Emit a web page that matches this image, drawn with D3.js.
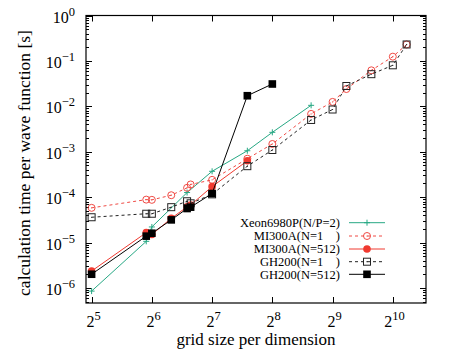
<!DOCTYPE html>
<html><head><meta charset="utf-8">
<script src="https://cdn.jsdelivr.net/npm/d3@7"></script>
<style>body{margin:0;background:#fff}svg{display:block}</style>
</head><body>
<script>
// ---- data ----
const xeonX = [32, 60, 64, 96, 128, 192, 256, 400];
const xeonY = [8.5e-7, 1.06e-5, 2.2e-5, 1.26e-4, 3.7e-4, 1.05e-3, 2.67e-3, 1.05e-2];

const mi1X = [32, 60, 64, 80, 96, 100, 128, 192, 256, 400, 512, 600, 800, 1024, 1200];
const mi1Y = [5.8e-5, 8.8e-5, 8.7e-5, 1.1e-4, 1.6e-4, 1.9e-4, 2.4e-4, 7.0e-4, 1.48e-3, 6.8e-3, 1.25e-2, 2.4e-2, 6.2e-2, 0.124, 0.23];

const mi512X = [32, 60, 64, 80, 96, 100, 128, 192];
const mi512Y = [2.35e-6, 1.65e-5, 1.5e-5, 3.4e-5, 6.1e-5, 6.7e-5, 1.7e-4, 6.3e-4];

const gh1X = [32, 60, 64, 80, 96, 100, 128, 192, 256, 400, 512, 600, 800, 1024, 1200];
const gh1Y = [3.6e-5, 4.3e-5, 4.3e-5, 6.0e-5, 8.1e-5, 7.3e-5, 1.15e-4, 4.8e-4, 1.09e-3, 5.0e-3, 8.5e-3, 2.8e-2, 5.1e-2, 8.0e-2, 0.23];

const gh512X = [32, 60, 64, 80, 96, 100, 128, 192, 256];
const gh512Y = [2.0e-6, 1.38e-5, 1.6e-5, 3.15e-5, 5.6e-5, 6.0e-5, 1.2e-4, 1.71e-2, 3.1e-2];

const seriesNames = ["Xeon6980P(N/P=2)", "MI300A(N=1    )", "MI300A(N=512)", "GH200(N=1    )", "GH200(N=512)"];
const xTickExps = [5, 6, 7, 8, 9, 10];
const yTickExps = [0, -1, -2, -3, -4, -5, -6];
const xTitle = "grid size per dimension";
const yTitle = "calculation time per wave function [s]";

// ---- layout ----
const W = 458, H = 359;
const L = 86, R = 426, T = 15.5, B = 303;
const serif = "'Liberation Serif','Times New Roman',Times,serif";

const svg = d3.select("body").append("svg").attr("width", W).attr("height", H);

const x = d3.scaleLog().base(2).domain([30, 1500]).range([L, R]);
const y = d3.scaleLog().domain([4.65e-7, 1]).range([B, T]);

const styles = [
  {color: "#27a884", dash: null, marker: "plus"},
  {color: "#f04a44", dash: "3,3", marker: "ocircle"},
  {color: "#f03a30", dash: null, marker: "fcircle"},
  {color: "#222", dash: "3,3", marker: "osquare"},
  {color: "#000", dash: null, marker: "fsquare"}
];
const series = [
  d3.zip(xeonX, xeonY), d3.zip(mi1X, mi1Y), d3.zip(mi512X, mi512Y),
  d3.zip(gh1X, gh1Y), d3.zip(gh512X, gh512Y)
];

// ---- ticks ----
const g = svg.append("g");
const tickLen = 6, minorLen = 3;
const yMinor = [];
for (let e = -7; e <= 0; e++) for (let m = 2; m <= 9; m++) {
  const v = m * Math.pow(10, e);
  if (v >= y.domain()[0] && v <= 1) yMinor.push(v);
}
g.selectAll(".ymin").data(yMinor).join("g").each(function(v) {
  const yy = Math.round(y(v)) + 0.5;
  d3.select(this).append("line").attr("x1", L).attr("x2", L + minorLen).attr("y1", yy).attr("y2", yy).attr("stroke", "#000");
  d3.select(this).append("line").attr("x1", R).attr("x2", R - minorLen).attr("y1", yy).attr("y2", yy).attr("stroke", "#000");
});
g.selectAll(".ymaj").data(yTickExps).join("g").each(function(e) {
  const yy = Math.round(y(Math.pow(10, e))) + 0.5;
  const s = d3.select(this);
  s.append("line").attr("x1", L).attr("x2", L + tickLen).attr("y1", yy).attr("y2", yy).attr("stroke", "#000");
  s.append("line").attr("x1", R).attr("x2", R - tickLen).attr("y1", yy).attr("y2", yy).attr("stroke", "#000");
  const t = s.append("text").attr("x", 75).attr("y", yy + 6).attr("text-anchor", "end")
    .attr("font-family", serif).attr("font-size", 16).attr("fill", "#000");
  t.append("tspan").text("10");
  t.append("tspan").attr("dy", -7).attr("font-size", 12.5).text(e === 0 ? "0" : "\u2212" + Math.abs(e));
});
g.selectAll(".xmaj").data(xTickExps).join("g").each(function(e) {
  const xx = Math.round(x(Math.pow(2, e))) + 0.5;
  const s = d3.select(this);
  s.append("line").attr("x1", xx).attr("x2", xx).attr("y1", B).attr("y2", B - tickLen).attr("stroke", "#000");
  s.append("line").attr("x1", xx).attr("x2", xx).attr("y1", T).attr("y2", T + tickLen).attr("stroke", "#000");
  const t = s.append("text").attr("x", xx + 1).attr("y", 327).attr("text-anchor", "middle")
    .attr("font-family", serif).attr("font-size", 16).attr("fill", "#000");
  t.append("tspan").text("2");
  t.append("tspan").attr("dy", -7).attr("font-size", 12.5).text(String(e));
});

// frame
svg.append("rect").attr("x", L).attr("y", T).attr("width", R - L).attr("height", B - T)
  .attr("fill", "none").attr("stroke", "#000").attr("stroke-width", 1.2);

// titles
svg.append("text").attr("x", 256).attr("y", 345).attr("text-anchor", "middle")
  .attr("font-family", serif).attr("font-size", 17).text(xTitle);
svg.append("text").attr("transform", "translate(30,163) rotate(-90)").attr("text-anchor", "middle")
  .attr("font-family", serif).attr("font-size", 17.5).text(yTitle);

// markers
function drawMarker(sel, type, cx, cy, color) {
  if (type === "plus") {
    sel.append("path").attr("d", `M${cx-3},${cy}H${cx+3}M${cx},${cy-3}V${cy+3}`).attr("stroke", color).attr("stroke-width", 1);
  } else if (type === "ocircle") {
    sel.append("circle").attr("cx", cx).attr("cy", cy).attr("r", 3.5).attr("fill", "none").attr("stroke", color).attr("stroke-width", 1);
    sel.append("circle").attr("cx", cx).attr("cy", cy).attr("r", 0.6).attr("fill", color);
  } else if (type === "fcircle") {
    sel.append("circle").attr("cx", cx).attr("cy", cy).attr("r", 3.8).attr("fill", color);
  } else if (type === "osquare") {
    sel.append("rect").attr("x", cx - 3.5).attr("y", cy - 3.5).attr("width", 7).attr("height", 7).attr("fill", "none").attr("stroke", color).attr("stroke-width", 1);
    sel.append("circle").attr("cx", cx).attr("cy", cy).attr("r", 0.6).attr("fill", color);
  } else if (type === "fsquare") {
    sel.append("rect").attr("x", cx - 3.8).attr("y", cy - 3.8).attr("width", 7.6).attr("height", 7.6).attr("fill", color);
  }
}

const line = d3.line().x(d => x(d[0])).y(d => y(d[1]));
const plot = svg.append("g");
series.forEach((data, i) => {
  const st = styles[i];
  const gs = plot.append("g");
  gs.append("path").datum(data).attr("d", line).attr("fill", "none")
    .attr("stroke", st.color).attr("stroke-width", 1).attr("stroke-dasharray", st.dash);
  data.forEach(d => drawMarker(gs, st.marker, x(d[0]), y(d[1]), st.color));
});

// legend
const legY = [222.7, 236, 249, 261.7, 274.3];
seriesNames.forEach((name, i) => {
  const st = styles[i];
  const lg = svg.append("g");
  lg.append("text").attr("x", 340).attr("y", legY[i] + 4.3).attr("text-anchor", "end")
    .attr("font-family", serif).attr("font-size", 12.5).attr("xml:space", "preserve")
    .style("white-space", "pre").text(name);
  lg.append("line").attr("x1", 349).attr("x2", 385).attr("y1", legY[i]).attr("y2", legY[i])
    .attr("stroke", st.color).attr("stroke-width", 1).attr("stroke-dasharray", st.dash);
  drawMarker(lg, st.marker, 367, legY[i], st.color);
});
</script>
</body></html>
